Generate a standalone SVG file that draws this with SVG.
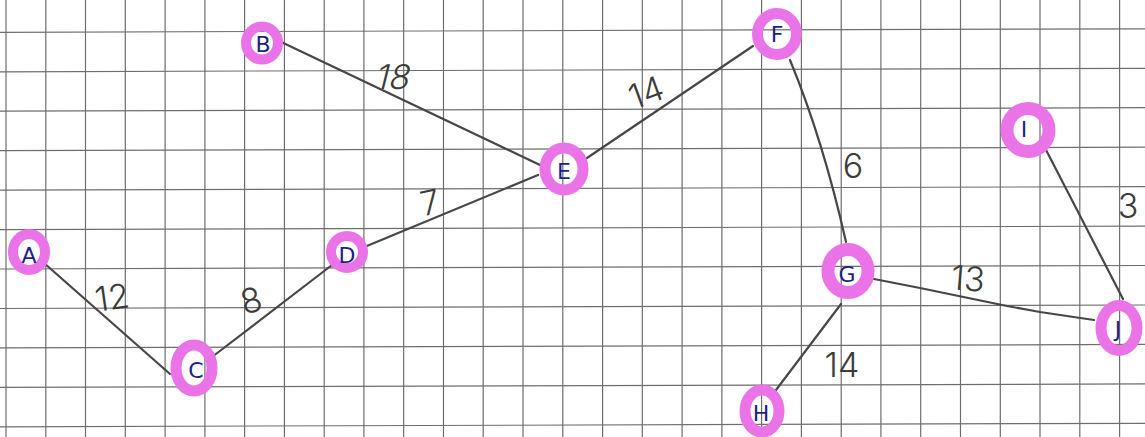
<svg xmlns="http://www.w3.org/2000/svg" width="1145" height="437" viewBox="0 0 1145 437">
<style>
.grid line{stroke:#6e6e6e;stroke-width:1.2}
.edge{fill:none;stroke:#474747;stroke-width:2.2;stroke-linecap:round;stroke-linejoin:round}
.ring{fill:none;stroke:#ea74e7;stroke-width:11}
.lbl{font-family:"Inter","Liberation Sans",sans-serif;font-weight:300;font-size:34px;fill:#3c3c3c;text-anchor:middle;dominant-baseline:central}
.nl{font-family:"DejaVu Sans","Liberation Sans",sans-serif;font-size:22px;fill:#1d1f85;text-anchor:middle;dominant-baseline:central}
</style>
<rect width="1145" height="437" fill="#ffffff"/>
<g class="grid">
<line x1="6" y1="0" x2="6" y2="437"/>
<line x1="45.8" y1="0" x2="45.8" y2="437"/>
<line x1="85.5" y1="0" x2="85.5" y2="437"/>
<line x1="125.3" y1="0" x2="125.3" y2="437"/>
<line x1="165.1" y1="0" x2="165.1" y2="437"/>
<line x1="204.9" y1="0" x2="204.9" y2="437"/>
<line x1="244.6" y1="0" x2="244.6" y2="437"/>
<line x1="284.4" y1="0" x2="284.4" y2="437"/>
<line x1="324.2" y1="0" x2="324.2" y2="437"/>
<line x1="363.9" y1="0" x2="363.9" y2="437"/>
<line x1="403.7" y1="0" x2="403.7" y2="437"/>
<line x1="443.5" y1="0" x2="443.5" y2="437"/>
<line x1="483.2" y1="0" x2="483.2" y2="437"/>
<line x1="523" y1="0" x2="523" y2="437"/>
<line x1="562.8" y1="0" x2="562.8" y2="437"/>
<line x1="602.6" y1="0" x2="602.6" y2="437"/>
<line x1="642.3" y1="0" x2="642.3" y2="437"/>
<line x1="682.1" y1="0" x2="682.1" y2="437"/>
<line x1="721.9" y1="0" x2="721.9" y2="437"/>
<line x1="761.6" y1="0" x2="761.6" y2="437"/>
<line x1="801.4" y1="0" x2="801.4" y2="437"/>
<line x1="841.2" y1="0" x2="841.2" y2="437"/>
<line x1="880.9" y1="0" x2="880.9" y2="437"/>
<line x1="920.7" y1="0" x2="920.7" y2="437"/>
<line x1="960.5" y1="0" x2="960.5" y2="437"/>
<line x1="1000.3" y1="0" x2="1000.3" y2="437"/>
<line x1="1040" y1="0" x2="1040" y2="437"/>
<line x1="1079.8" y1="0" x2="1079.8" y2="437"/>
<line x1="1119.6" y1="0" x2="1119.6" y2="437"/>
<line x1="0" y1="32.3" x2="1145" y2="28.8"/>
<line x1="0" y1="71.8" x2="1145" y2="68.3"/>
<line x1="0" y1="111.2" x2="1145" y2="107.7"/>
<line x1="0" y1="150.7" x2="1145" y2="147.2"/>
<line x1="0" y1="190.1" x2="1145" y2="186.6"/>
<line x1="0" y1="229.6" x2="1145" y2="226.1"/>
<line x1="0" y1="269" x2="1145" y2="265.5"/>
<line x1="0" y1="308.5" x2="1145" y2="305"/>
<line x1="0" y1="347.9" x2="1145" y2="344.4"/>
<line x1="0" y1="387.4" x2="1145" y2="383.9"/>
<line x1="0" y1="426.8" x2="1145" y2="423.3"/>
</g>
<g id="connectors">
<path class="edge" d="M44,263 L170,374"/>
<path class="edge" d="M212,357 L332,265"/>
<path class="edge" d="M362,248 L538,175"/>
<path class="edge" d="M277,40 L540,165"/>
<path class="edge" d="M584,160 L753,46"/>
<path class="edge" d="M790,60 Q823,140 846,242"/>
<path class="edge" d="M874,279 L920,288 L1007,306 L1040,312 L1094,320"/>
<path class="edge" d="M841,304 L776,390"/>
<path class="edge" d="M1044,146 L1123,299"/>
<text class="lbl" transform="translate(394,77) skewX(-14)">18</text>
<text class="lbl" transform="translate(646,92) rotate(-20)">14</text>
<text class="lbl" transform="translate(430,202) rotate(-12)">7</text>
<text class="lbl" transform="translate(112,297) rotate(-8)">12</text>
<text class="lbl" transform="translate(251,300) rotate(-15)">8</text>
<text class="lbl" x="853" y="165">6</text>
<text class="lbl" x="1128" y="205">3</text>
<text class="lbl" transform="translate(968,278) rotate(5)">13</text>
<text class="lbl" x="842" y="364">14</text>
</g>
<g id="node-A"><ellipse class="ring" cx="29" cy="252" rx="16" ry="18" style="stroke-width:10"/><text class="nl" x="29" y="255">A</text></g>
<g id="node-B"><ellipse class="ring" cx="262" cy="43" rx="16" ry="16.5" style="stroke-width:10"/><text class="nl" x="263" y="44">B</text></g>
<g id="node-C"><ellipse class="ring" cx="194" cy="368" rx="18" ry="23"/><text class="nl" x="196" y="370">C</text></g>
<g id="node-D"><ellipse class="ring" cx="347" cy="252" rx="16" ry="16" style="stroke-width:10"/><text class="nl" x="347" y="255">D</text></g>
<g id="node-E"><ellipse class="ring" cx="564" cy="169" rx="19" ry="21"/><text class="nl" x="564" y="171">E</text></g>
<g id="node-F"><ellipse class="ring" cx="777" cy="34" rx="19.5" ry="20.5"/><text class="nl" x="777" y="34">F</text></g>
<g id="node-G"><ellipse class="ring" cx="848" cy="271" rx="20" ry="21.5" style="stroke-width:13"/><text class="nl" x="847" y="274">G</text></g>
<g id="node-H"><ellipse class="ring" cx="762" cy="411" rx="17" ry="21"/><text class="nl" x="761" y="413">H</text></g>
<g id="node-I"><ellipse class="ring" cx="1028" cy="130" rx="21" ry="21.5" style="stroke-width:13"/><text class="nl" x="1024" y="129">I</text></g>
<g id="node-J"><ellipse class="ring" cx="1119" cy="328" rx="18" ry="22.5"/><text class="nl" x="1118" y="329">J</text></g>
</svg>
